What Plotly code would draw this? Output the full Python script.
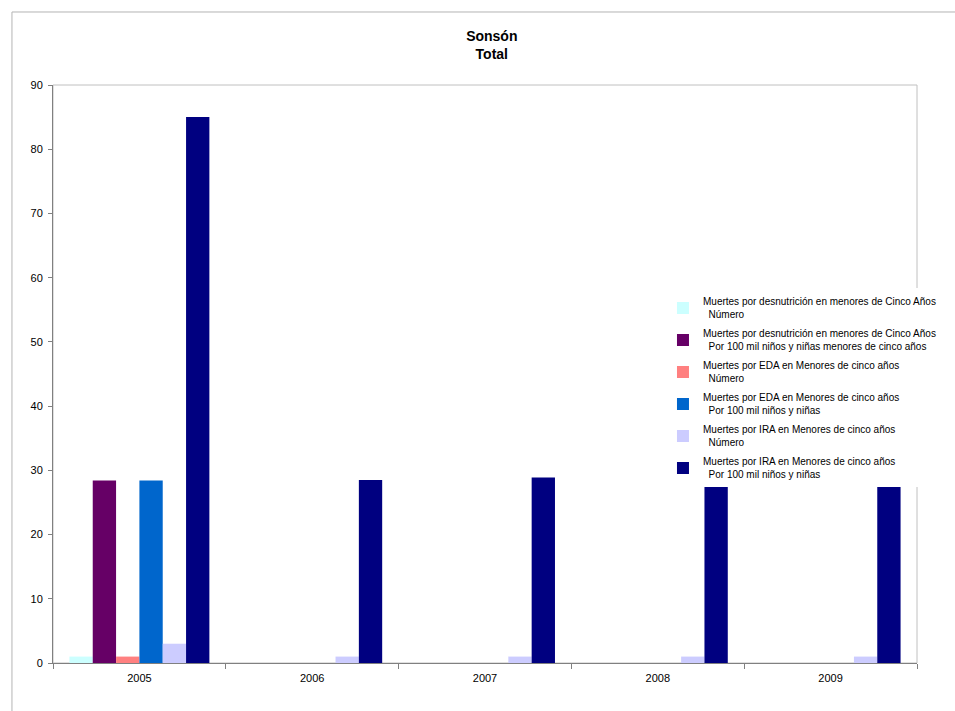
import plotly.graph_objects as go

years = ["2005", "2006", "2007", "2008", "2009"]
series_names = [
    "Muertes por desnutrición en menores de Cinco Años<br>  Número",
    "Muertes por desnutrición en menores de Cinco Años<br>  Por 100 mil niños y niñas menores de cinco años",
    "Muertes por EDA en Menores de cinco años<br>  Número",
    "Muertes por EDA en Menores de cinco años<br>  Por 100 mil niños y niñas",
    "Muertes por IRA en Menores de cinco años<br>  Número",
    "Muertes por IRA en Menores de cinco años<br>  Por 100 mil niños y niñas",
]
desn_num = [1, 0, 0, 0, 0]
desn_tasa = [28.4, 0, 0, 0, 0]
eda_num = [1, 0, 0, 0, 0]
eda_tasa = [28.4, 0, 0, 0, 0]
ira_num = [3, 1, 1, 1, 1]
ira_tasa = [85.0, 28.5, 28.9, 27.5, 27.4]
colors = ["#CCFFFF", "#660066", "#FF8080", "#0066CC", "#CCCCFF", "#000080"]

series_values = [desn_num, desn_tasa, eda_num, eda_tasa, ira_num, ira_tasa]

fig = go.Figure()
for i, (name, vals, col) in enumerate(zip(series_names, series_values, colors)):
    fig.add_trace(go.Bar(x=years, y=vals, name=name, marker_color=col,
                         marker_line_width=0, legendgroup=str(i)))

FONT = "Liberation Sans, Arial, sans-serif"
fig.update_layout(
    width=955, height=711,
    margin=dict(l=53, r=38, t=85, b=48),
    paper_bgcolor="white", plot_bgcolor="white",
    barmode="group", bargap=0.19, bargroupgap=0,
    font=dict(family=FONT, size=11, color="black"),
    title=dict(text="<b>Sonsón<br>Total</b>", x=0.515, xanchor="center",
               y=0.943, yanchor="middle", font=dict(size=14, family=FONT)),
    showlegend=True,
    legend=dict(x=0.706, y=0.648, xanchor="left", yanchor="top",
                bgcolor="white", borderwidth=0, font=dict(size=10, family=FONT),
                traceorder="grouped", tracegroupgap=3),
    xaxis=dict(showline=True, linecolor="#808080", linewidth=1,
               ticks="outside", tickson="boundaries", ticklen=5, tickcolor="#808080",
               ticklabelstandoff=5,
               showgrid=False, tickfont=dict(size=11)),
    yaxis=dict(range=[0, 90], dtick=10, showline=True, linecolor="#808080", linewidth=1,
               ticks="outside", ticklen=4, tickcolor="#808080",
               ticklabelstandoff=3,
               showgrid=False, zeroline=False, tickfont=dict(size=11)),
    shapes=[
        dict(type="rect", xref="paper", yref="paper", x0=0, y0=0, x1=1, y1=1,
             line=dict(color="#C0C0C0", width=1), layer="below"),
        dict(type="rect", xref="paper", yref="paper", x0=-0.0475, y0=-0.2,
             x1=1.2, y1=1.1263, line=dict(color="#B4B4B4", width=1), layer="below"),
    ],
)

fig.write_html("out.html")
